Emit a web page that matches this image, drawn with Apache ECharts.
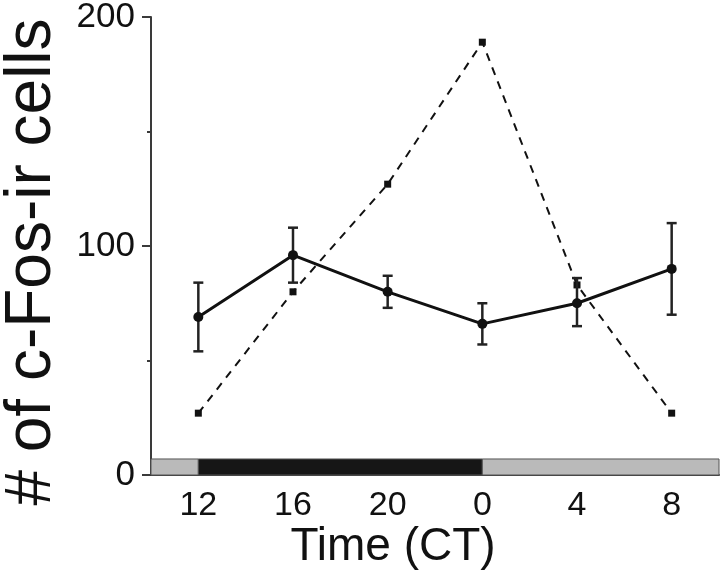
<!DOCTYPE html>
<html><head><meta charset="utf-8">
<script src="https://cdn.jsdelivr.net/npm/echarts@6/dist/echarts.min.js"></script>
<style>html,body{margin:0;padding:0;background:#fff}#c{width:720px;height:578px}</style>
</head><body><div id="c"></div>
<script>
const timeLabels = ['12', '16', '20', '0', '4', '8'];
const meanValues = [69, 96, 80, 66, 75, 90];
const errLow = [54, 84, 73, 57, 65, 70];
const errHigh = [84, 108, 87, 75, 86, 110];
const dashedValues = [27, 80, 127, 189, 83, 27];
// light/dark bar, hours after CT12
const ldStart = [-2, 0, 12];
const ldEnd = [0, 12, 22];
const ldPhase = ['light', 'dark', 'light'];
const ldHeight = 7;
const xTitle = 'Time (CT)';
const yTitle = '# of c-Fos-ir cells';

const chart = echarts.init(document.getElementById('c'), null, {renderer: 'canvas'});
const font = 'Liberation Sans, Arial, sans-serif';
const axisColor = '#3a3a3a';

const option = {
  animation: false,
  grid: {left: 151, right: 1, top: 17, bottom: 103, outerBoundsMode: 'none', containLabel: false},
  xAxis: [{
    type: 'category', data: timeLabels, boundaryGap: true,
    axisLine: {lineStyle: {color: axisColor, width: 2}},
    axisTick: {alignWithLabel: true, length: 8, lineStyle: {color: axisColor, width: 2}},
    axisLabel: {fontFamily: font, fontSize: 34, color: '#111', margin: 14},
    splitLine: {show: false}
  }, {
    type: 'value', min: -2, max: 22, show: false
  }],
  yAxis: {
    type: 'value', min: 0, max: 200, interval: 100,
    axisLine: {show: true, onZero: false, lineStyle: {color: axisColor, width: 2}},
    axisTick: {show: true, length: 9, lineStyle: {color: axisColor, width: 2}},
    minorTick: {show: true, splitNumber: 2, length: 4, lineStyle: {color: axisColor, width: 2}},
    axisLabel: {fontFamily: font, fontSize: 35, color: '#111', margin: 16},
    splitLine: {show: false}
  },
  graphic: [{
    type: 'text', x: 393, y: 547, z: 10,
    style: {text: xTitle, font: '46px Liberation Sans, Arial, sans-serif', fill: '#111', align: 'center', verticalAlign: 'middle'}
  }, {
    type: 'text', x: 32, y: 262, rotation: Math.PI / 2, z: 10,
    style: {text: yTitle, font: '64px Liberation Sans, Arial, sans-serif', fill: '#111', align: 'center', verticalAlign: 'middle'}
  }],
  series: [{
    type: 'custom', xAxisIndex: 1, z: 1,
    data: ldStart.map((s, i) => [s, ldEnd[i], ldPhase[i] === 'dark' ? 1 : 0]),
    renderItem: function (params, api) {
      const p0 = api.coord([api.value(0), 0]);
      const p1 = api.coord([api.value(1), ldHeight]);
      return {
        type: 'rect',
        shape: {x: p0[0], y: p1[1], width: p1[0] - p0[0], height: p0[1] - p1[1]},
        style: {fill: api.value(2) ? '#161616' : '#bababa', stroke: '#555', lineWidth: 1}
      };
    }
  }, {
    type: 'custom', xAxisIndex: 0, z: 3,
    data: timeLabels.map((t, i) => [i, errLow[i], errHigh[i]]),
    renderItem: function (params, api) {
      const lo = api.coord([api.value(0), api.value(1)]);
      const hi = api.coord([api.value(0), api.value(2)]);
      const w = 5;
      const st = {stroke: '#222', lineWidth: 2.5};
      return {type: 'group', children: [
        {type: 'line', shape: {x1: lo[0], y1: lo[1], x2: hi[0], y2: hi[1]}, style: st},
        {type: 'line', shape: {x1: lo[0] - w, y1: lo[1], x2: lo[0] + w, y2: lo[1]}, style: st},
        {type: 'line', shape: {x1: hi[0] - w, y1: hi[1], x2: hi[0] + w, y2: hi[1]}, style: st}
      ]};
    }
  }, {
    type: 'line', data: meanValues, z: 4,
    symbol: 'circle', symbolSize: 10,
    lineStyle: {color: '#111', width: 3},
    itemStyle: {color: '#111'}
  }, {
    type: 'line', data: dashedValues, z: 2,
    symbol: 'rect', symbolSize: 7,
    lineStyle: {color: '#111', width: 2, type: [8, 7]},
    itemStyle: {color: '#111'}
  }]
};
chart.setOption(option);
</script></body></html>
